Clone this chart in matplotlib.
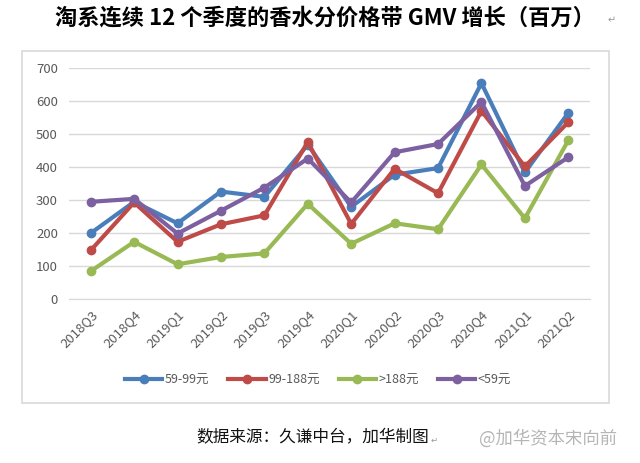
import matplotlib.pyplot as plt
from matplotlib.patches import Rectangle

plt.rcParams['font.family'] = ['Noto Sans CJK SC', 'DejaVu Sans']

quarters = ['2018Q3', '2018Q4', '2019Q1', '2019Q2', '2019Q3', '2019Q4',
            '2020Q1', '2020Q2', '2020Q3', '2020Q4', '2021Q1', '2021Q2']
gmv_59_99 = [200, 295, 230, 326, 310, 468, 280, 377, 397, 654, 384, 564]
gmv_99_188 = [148, 293, 174, 227, 254, 476, 228, 395, 321, 570, 402, 536]
gmv_over_188 = [85, 174, 106, 128, 139, 289, 168, 230, 212, 408, 245, 481]
gmv_under_59 = [295, 304, 199, 268, 338, 426, 293, 445, 470, 597, 343, 430]

series = [
    ('59-99元', gmv_59_99, '#4A7EBB'),
    ('99-188元', gmv_99_188, '#BE4B48'),
    ('>188元', gmv_over_188, '#98B954'),
    ('<59元', gmv_under_59, '#7D60A0'),
]

fig = plt.figure(figsize=(6.4, 4.63), dpi=100)

# chart frame
fig.patches.append(Rectangle((22 / 640, 1 - 403 / 463), (609 - 22) / 640, (403 - 51) / 463,
                             transform=fig.transFigure, fill=False,
                             edgecolor='#D9D9D9', linewidth=1.2))

ax = fig.add_axes([69 / 640, 1 - 299.3 / 463, (590 - 69) / 640, (299.3 - 68) / 463])
x = list(range(len(quarters)))
for label, vals, color in series:
    ax.plot(x, vals, '-o', color=color, linewidth=3, markersize=6, label=label)

ax.set_xlim(-0.5, len(quarters) - 0.5)
ax.set_ylim(0, 700)
ax.set_yticks(range(0, 701, 100))
ax.yaxis.grid(True, color='#D9D9D9', linewidth=1)
ax.set_axisbelow(True)
for s in ['top', 'right', 'left']:
    ax.spines[s].set_visible(False)
ax.spines['bottom'].set_color('#D9D9D9')
ax.tick_params(axis='both', length=0, colors='#595959', labelsize=9.5)
ax.tick_params(axis='y', pad=8)
ax.set_xticks(x)
ax.set_xticklabels(quarters, rotation=45, ha='right', rotation_mode='anchor')
ax.tick_params(axis='x', pad=6)

leg = fig.legend(loc='center', bbox_to_anchor=(318 / 640, 1 - 380 / 463), ncol=4,
                 frameon=False, fontsize=9, handlelength=3, columnspacing=1.5,
                 handletextpad=0.2)
for t in leg.get_texts():
    t.set_color('#595959')

fig.text(325 / 640, 1 - 18 / 463, '淘系连续 12 个季度的香水分价格带 GMV 增长（百万）',
         ha='center', va='center', fontsize=16, fontweight='bold', color='#000000')
fig.text(612 / 640, 1 - 20 / 463, '↵', ha='center', va='center', fontsize=7, color='#999999',
         family='DejaVu Sans')
fig.text(313 / 640, 1 - 438 / 463, '数据来源：久谦中台，加华制图', ha='center', va='center',
         fontsize=12, color='#111111')
fig.text(434 / 640, 1 - 440 / 463, '↵', ha='center', va='center', fontsize=6, color='#999999',
         family='DejaVu Sans')
fig.text(548 / 640, 1 - 438 / 463, '@加华资本宋向前', ha='center', va='center',
         fontsize=12.5, color='#B5B5B5')

fig.savefig('out.png', dpi=100)
